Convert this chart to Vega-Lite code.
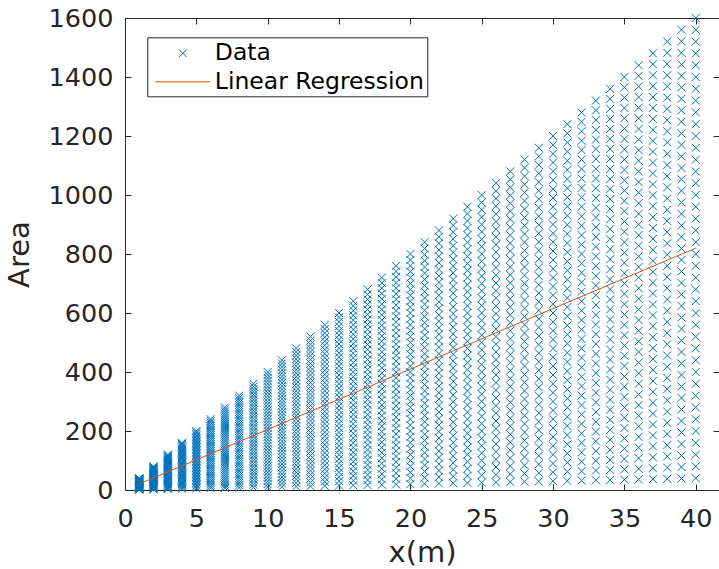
{
"$schema":"https://vega.github.io/schema/vega-lite/v6.json",
"width":594,"height":472,
"autosize":{"type":"none"},
"padding":{"left":125,"top":18,"right":0,"bottom":79},
"background":"white",
"config":{
"view":{"stroke":null},
"font":"DejaVu Sans",
"axis":{"domainColor":"#262626","tickColor":"#262626","labelColor":"#262626","titleColor":"#262626","labelFont":"DejaVu Sans","labelFontSize":25.5,"titleFont":"DejaVu Sans","titleFontSize":29,"titleFontWeight":"normal","tickSize":-6,"grid":false,"domainWidth":1,"tickWidth":1,"labelFlush":false,"labelOverlap":false}
},
"datasets":{
"fit":[{"x":1,"y":20.5},{"x":40,"y":820}],
"pts":[
{"x":1,"y":1},{"x":1,"y":2},{"x":1,"y":3},{"x":1,"y":4},{"x":1,"y":5},{"x":1,"y":6},{"x":1,"y":7},{"x":1,"y":8},{"x":1,"y":9},{"x":1,"y":10},{"x":1,"y":11},{"x":1,"y":12},{"x":1,"y":13},{"x":1,"y":14},{"x":1,"y":15},{"x":1,"y":16},{"x":1,"y":17},{"x":1,"y":18},{"x":1,"y":19},{"x":1,"y":20},{"x":1,"y":21},{"x":1,"y":22},{"x":1,"y":23},{"x":1,"y":24},{"x":1,"y":25},{"x":1,"y":26},{"x":1,"y":27},{"x":1,"y":28},{"x":1,"y":29},{"x":1,"y":30},{"x":1,"y":31},{"x":1,"y":32},{"x":1,"y":33},{"x":1,"y":34},{"x":1,"y":35},{"x":1,"y":36},{"x":1,"y":37},{"x":1,"y":38},{"x":1,"y":39},{"x":1,"y":40},
{"x":2,"y":2},{"x":2,"y":4},{"x":2,"y":6},{"x":2,"y":8},{"x":2,"y":10},{"x":2,"y":12},{"x":2,"y":14},{"x":2,"y":16},{"x":2,"y":18},{"x":2,"y":20},{"x":2,"y":22},{"x":2,"y":24},{"x":2,"y":26},{"x":2,"y":28},{"x":2,"y":30},{"x":2,"y":32},{"x":2,"y":34},{"x":2,"y":36},{"x":2,"y":38},{"x":2,"y":40},{"x":2,"y":42},{"x":2,"y":44},{"x":2,"y":46},{"x":2,"y":48},{"x":2,"y":50},{"x":2,"y":52},{"x":2,"y":54},{"x":2,"y":56},{"x":2,"y":58},{"x":2,"y":60},{"x":2,"y":62},{"x":2,"y":64},{"x":2,"y":66},{"x":2,"y":68},{"x":2,"y":70},{"x":2,"y":72},{"x":2,"y":74},{"x":2,"y":76},{"x":2,"y":78},{"x":2,"y":80},
{"x":3,"y":3},{"x":3,"y":6},{"x":3,"y":9},{"x":3,"y":12},{"x":3,"y":15},{"x":3,"y":18},{"x":3,"y":21},{"x":3,"y":24},{"x":3,"y":27},{"x":3,"y":30},{"x":3,"y":33},{"x":3,"y":36},{"x":3,"y":39},{"x":3,"y":42},{"x":3,"y":45},{"x":3,"y":48},{"x":3,"y":51},{"x":3,"y":54},{"x":3,"y":57},{"x":3,"y":60},{"x":3,"y":63},{"x":3,"y":66},{"x":3,"y":69},{"x":3,"y":72},{"x":3,"y":75},{"x":3,"y":78},{"x":3,"y":81},{"x":3,"y":84},{"x":3,"y":87},{"x":3,"y":90},{"x":3,"y":93},{"x":3,"y":96},{"x":3,"y":99},{"x":3,"y":102},{"x":3,"y":105},{"x":3,"y":108},{"x":3,"y":111},{"x":3,"y":114},{"x":3,"y":117},{"x":3,"y":120},
{"x":4,"y":4},{"x":4,"y":8},{"x":4,"y":12},{"x":4,"y":16},{"x":4,"y":20},{"x":4,"y":24},{"x":4,"y":28},{"x":4,"y":32},{"x":4,"y":36},{"x":4,"y":40},{"x":4,"y":44},{"x":4,"y":48},{"x":4,"y":52},{"x":4,"y":56},{"x":4,"y":60},{"x":4,"y":64},{"x":4,"y":68},{"x":4,"y":72},{"x":4,"y":76},{"x":4,"y":80},{"x":4,"y":84},{"x":4,"y":88},{"x":4,"y":92},{"x":4,"y":96},{"x":4,"y":100},{"x":4,"y":104},{"x":4,"y":108},{"x":4,"y":112},{"x":4,"y":116},{"x":4,"y":120},{"x":4,"y":124},{"x":4,"y":128},{"x":4,"y":132},{"x":4,"y":136},{"x":4,"y":140},{"x":4,"y":144},{"x":4,"y":148},{"x":4,"y":152},{"x":4,"y":156},{"x":4,"y":160},
{"x":5,"y":5},{"x":5,"y":10},{"x":5,"y":15},{"x":5,"y":20},{"x":5,"y":25},{"x":5,"y":30},{"x":5,"y":35},{"x":5,"y":40},{"x":5,"y":45},{"x":5,"y":50},{"x":5,"y":55},{"x":5,"y":60},{"x":5,"y":65},{"x":5,"y":70},{"x":5,"y":75},{"x":5,"y":80},{"x":5,"y":85},{"x":5,"y":90},{"x":5,"y":95},{"x":5,"y":100},{"x":5,"y":105},{"x":5,"y":110},{"x":5,"y":115},{"x":5,"y":120},{"x":5,"y":125},{"x":5,"y":130},{"x":5,"y":135},{"x":5,"y":140},{"x":5,"y":145},{"x":5,"y":150},{"x":5,"y":155},{"x":5,"y":160},{"x":5,"y":165},{"x":5,"y":170},{"x":5,"y":175},{"x":5,"y":180},{"x":5,"y":185},{"x":5,"y":190},{"x":5,"y":195},{"x":5,"y":200},
{"x":6,"y":6},{"x":6,"y":12},{"x":6,"y":18},{"x":6,"y":24},{"x":6,"y":30},{"x":6,"y":36},{"x":6,"y":42},{"x":6,"y":48},{"x":6,"y":54},{"x":6,"y":60},{"x":6,"y":66},{"x":6,"y":72},{"x":6,"y":78},{"x":6,"y":84},{"x":6,"y":90},{"x":6,"y":96},{"x":6,"y":102},{"x":6,"y":108},{"x":6,"y":114},{"x":6,"y":120},{"x":6,"y":126},{"x":6,"y":132},{"x":6,"y":138},{"x":6,"y":144},{"x":6,"y":150},{"x":6,"y":156},{"x":6,"y":162},{"x":6,"y":168},{"x":6,"y":174},{"x":6,"y":180},{"x":6,"y":186},{"x":6,"y":192},{"x":6,"y":198},{"x":6,"y":204},{"x":6,"y":210},{"x":6,"y":216},{"x":6,"y":222},{"x":6,"y":228},{"x":6,"y":234},{"x":6,"y":240},
{"x":7,"y":7},{"x":7,"y":14},{"x":7,"y":21},{"x":7,"y":28},{"x":7,"y":35},{"x":7,"y":42},{"x":7,"y":49},{"x":7,"y":56},{"x":7,"y":63},{"x":7,"y":70},{"x":7,"y":77},{"x":7,"y":84},{"x":7,"y":91},{"x":7,"y":98},{"x":7,"y":105},{"x":7,"y":112},{"x":7,"y":119},{"x":7,"y":126},{"x":7,"y":133},{"x":7,"y":140},{"x":7,"y":147},{"x":7,"y":154},{"x":7,"y":161},{"x":7,"y":168},{"x":7,"y":175},{"x":7,"y":182},{"x":7,"y":189},{"x":7,"y":196},{"x":7,"y":203},{"x":7,"y":210},{"x":7,"y":217},{"x":7,"y":224},{"x":7,"y":231},{"x":7,"y":238},{"x":7,"y":245},{"x":7,"y":252},{"x":7,"y":259},{"x":7,"y":266},{"x":7,"y":273},{"x":7,"y":280},
{"x":8,"y":8},{"x":8,"y":16},{"x":8,"y":24},{"x":8,"y":32},{"x":8,"y":40},{"x":8,"y":48},{"x":8,"y":56},{"x":8,"y":64},{"x":8,"y":72},{"x":8,"y":80},{"x":8,"y":88},{"x":8,"y":96},{"x":8,"y":104},{"x":8,"y":112},{"x":8,"y":120},{"x":8,"y":128},{"x":8,"y":136},{"x":8,"y":144},{"x":8,"y":152},{"x":8,"y":160},{"x":8,"y":168},{"x":8,"y":176},{"x":8,"y":184},{"x":8,"y":192},{"x":8,"y":200},{"x":8,"y":208},{"x":8,"y":216},{"x":8,"y":224},{"x":8,"y":232},{"x":8,"y":240},{"x":8,"y":248},{"x":8,"y":256},{"x":8,"y":264},{"x":8,"y":272},{"x":8,"y":280},{"x":8,"y":288},{"x":8,"y":296},{"x":8,"y":304},{"x":8,"y":312},{"x":8,"y":320},
{"x":9,"y":9},{"x":9,"y":18},{"x":9,"y":27},{"x":9,"y":36},{"x":9,"y":45},{"x":9,"y":54},{"x":9,"y":63},{"x":9,"y":72},{"x":9,"y":81},{"x":9,"y":90},{"x":9,"y":99},{"x":9,"y":108},{"x":9,"y":117},{"x":9,"y":126},{"x":9,"y":135},{"x":9,"y":144},{"x":9,"y":153},{"x":9,"y":162},{"x":9,"y":171},{"x":9,"y":180},{"x":9,"y":189},{"x":9,"y":198},{"x":9,"y":207},{"x":9,"y":216},{"x":9,"y":225},{"x":9,"y":234},{"x":9,"y":243},{"x":9,"y":252},{"x":9,"y":261},{"x":9,"y":270},{"x":9,"y":279},{"x":9,"y":288},{"x":9,"y":297},{"x":9,"y":306},{"x":9,"y":315},{"x":9,"y":324},{"x":9,"y":333},{"x":9,"y":342},{"x":9,"y":351},{"x":9,"y":360},
{"x":10,"y":10},{"x":10,"y":20},{"x":10,"y":30},{"x":10,"y":40},{"x":10,"y":50},{"x":10,"y":60},{"x":10,"y":70},{"x":10,"y":80},{"x":10,"y":90},{"x":10,"y":100},{"x":10,"y":110},{"x":10,"y":120},{"x":10,"y":130},{"x":10,"y":140},{"x":10,"y":150},{"x":10,"y":160},{"x":10,"y":170},{"x":10,"y":180},{"x":10,"y":190},{"x":10,"y":200},{"x":10,"y":210},{"x":10,"y":220},{"x":10,"y":230},{"x":10,"y":240},{"x":10,"y":250},{"x":10,"y":260},{"x":10,"y":270},{"x":10,"y":280},{"x":10,"y":290},{"x":10,"y":300},{"x":10,"y":310},{"x":10,"y":320},{"x":10,"y":330},{"x":10,"y":340},{"x":10,"y":350},{"x":10,"y":360},{"x":10,"y":370},{"x":10,"y":380},{"x":10,"y":390},{"x":10,"y":400},
{"x":11,"y":11},{"x":11,"y":22},{"x":11,"y":33},{"x":11,"y":44},{"x":11,"y":55},{"x":11,"y":66},{"x":11,"y":77},{"x":11,"y":88},{"x":11,"y":99},{"x":11,"y":110},{"x":11,"y":121},{"x":11,"y":132},{"x":11,"y":143},{"x":11,"y":154},{"x":11,"y":165},{"x":11,"y":176},{"x":11,"y":187},{"x":11,"y":198},{"x":11,"y":209},{"x":11,"y":220},{"x":11,"y":231},{"x":11,"y":242},{"x":11,"y":253},{"x":11,"y":264},{"x":11,"y":275},{"x":11,"y":286},{"x":11,"y":297},{"x":11,"y":308},{"x":11,"y":319},{"x":11,"y":330},{"x":11,"y":341},{"x":11,"y":352},{"x":11,"y":363},{"x":11,"y":374},{"x":11,"y":385},{"x":11,"y":396},{"x":11,"y":407},{"x":11,"y":418},{"x":11,"y":429},{"x":11,"y":440},
{"x":12,"y":12},{"x":12,"y":24},{"x":12,"y":36},{"x":12,"y":48},{"x":12,"y":60},{"x":12,"y":72},{"x":12,"y":84},{"x":12,"y":96},{"x":12,"y":108},{"x":12,"y":120},{"x":12,"y":132},{"x":12,"y":144},{"x":12,"y":156},{"x":12,"y":168},{"x":12,"y":180},{"x":12,"y":192},{"x":12,"y":204},{"x":12,"y":216},{"x":12,"y":228},{"x":12,"y":240},{"x":12,"y":252},{"x":12,"y":264},{"x":12,"y":276},{"x":12,"y":288},{"x":12,"y":300},{"x":12,"y":312},{"x":12,"y":324},{"x":12,"y":336},{"x":12,"y":348},{"x":12,"y":360},{"x":12,"y":372},{"x":12,"y":384},{"x":12,"y":396},{"x":12,"y":408},{"x":12,"y":420},{"x":12,"y":432},{"x":12,"y":444},{"x":12,"y":456},{"x":12,"y":468},{"x":12,"y":480},
{"x":13,"y":13},{"x":13,"y":26},{"x":13,"y":39},{"x":13,"y":52},{"x":13,"y":65},{"x":13,"y":78},{"x":13,"y":91},{"x":13,"y":104},{"x":13,"y":117},{"x":13,"y":130},{"x":13,"y":143},{"x":13,"y":156},{"x":13,"y":169},{"x":13,"y":182},{"x":13,"y":195},{"x":13,"y":208},{"x":13,"y":221},{"x":13,"y":234},{"x":13,"y":247},{"x":13,"y":260},{"x":13,"y":273},{"x":13,"y":286},{"x":13,"y":299},{"x":13,"y":312},{"x":13,"y":325},{"x":13,"y":338},{"x":13,"y":351},{"x":13,"y":364},{"x":13,"y":377},{"x":13,"y":390},{"x":13,"y":403},{"x":13,"y":416},{"x":13,"y":429},{"x":13,"y":442},{"x":13,"y":455},{"x":13,"y":468},{"x":13,"y":481},{"x":13,"y":494},{"x":13,"y":507},{"x":13,"y":520},
{"x":14,"y":14},{"x":14,"y":28},{"x":14,"y":42},{"x":14,"y":56},{"x":14,"y":70},{"x":14,"y":84},{"x":14,"y":98},{"x":14,"y":112},{"x":14,"y":126},{"x":14,"y":140},{"x":14,"y":154},{"x":14,"y":168},{"x":14,"y":182},{"x":14,"y":196},{"x":14,"y":210},{"x":14,"y":224},{"x":14,"y":238},{"x":14,"y":252},{"x":14,"y":266},{"x":14,"y":280},{"x":14,"y":294},{"x":14,"y":308},{"x":14,"y":322},{"x":14,"y":336},{"x":14,"y":350},{"x":14,"y":364},{"x":14,"y":378},{"x":14,"y":392},{"x":14,"y":406},{"x":14,"y":420},{"x":14,"y":434},{"x":14,"y":448},{"x":14,"y":462},{"x":14,"y":476},{"x":14,"y":490},{"x":14,"y":504},{"x":14,"y":518},{"x":14,"y":532},{"x":14,"y":546},{"x":14,"y":560},
{"x":15,"y":15},{"x":15,"y":30},{"x":15,"y":45},{"x":15,"y":60},{"x":15,"y":75},{"x":15,"y":90},{"x":15,"y":105},{"x":15,"y":120},{"x":15,"y":135},{"x":15,"y":150},{"x":15,"y":165},{"x":15,"y":180},{"x":15,"y":195},{"x":15,"y":210},{"x":15,"y":225},{"x":15,"y":240},{"x":15,"y":255},{"x":15,"y":270},{"x":15,"y":285},{"x":15,"y":300},{"x":15,"y":315},{"x":15,"y":330},{"x":15,"y":345},{"x":15,"y":360},{"x":15,"y":375},{"x":15,"y":390},{"x":15,"y":405},{"x":15,"y":420},{"x":15,"y":435},{"x":15,"y":450},{"x":15,"y":465},{"x":15,"y":480},{"x":15,"y":495},{"x":15,"y":510},{"x":15,"y":525},{"x":15,"y":540},{"x":15,"y":555},{"x":15,"y":570},{"x":15,"y":585},{"x":15,"y":600},
{"x":16,"y":16},{"x":16,"y":32},{"x":16,"y":48},{"x":16,"y":64},{"x":16,"y":80},{"x":16,"y":96},{"x":16,"y":112},{"x":16,"y":128},{"x":16,"y":144},{"x":16,"y":160},{"x":16,"y":176},{"x":16,"y":192},{"x":16,"y":208},{"x":16,"y":224},{"x":16,"y":240},{"x":16,"y":256},{"x":16,"y":272},{"x":16,"y":288},{"x":16,"y":304},{"x":16,"y":320},{"x":16,"y":336},{"x":16,"y":352},{"x":16,"y":368},{"x":16,"y":384},{"x":16,"y":400},{"x":16,"y":416},{"x":16,"y":432},{"x":16,"y":448},{"x":16,"y":464},{"x":16,"y":480},{"x":16,"y":496},{"x":16,"y":512},{"x":16,"y":528},{"x":16,"y":544},{"x":16,"y":560},{"x":16,"y":576},{"x":16,"y":592},{"x":16,"y":608},{"x":16,"y":624},{"x":16,"y":640},
{"x":17,"y":17},{"x":17,"y":34},{"x":17,"y":51},{"x":17,"y":68},{"x":17,"y":85},{"x":17,"y":102},{"x":17,"y":119},{"x":17,"y":136},{"x":17,"y":153},{"x":17,"y":170},{"x":17,"y":187},{"x":17,"y":204},{"x":17,"y":221},{"x":17,"y":238},{"x":17,"y":255},{"x":17,"y":272},{"x":17,"y":289},{"x":17,"y":306},{"x":17,"y":323},{"x":17,"y":340},{"x":17,"y":357},{"x":17,"y":374},{"x":17,"y":391},{"x":17,"y":408},{"x":17,"y":425},{"x":17,"y":442},{"x":17,"y":459},{"x":17,"y":476},{"x":17,"y":493},{"x":17,"y":510},{"x":17,"y":527},{"x":17,"y":544},{"x":17,"y":561},{"x":17,"y":578},{"x":17,"y":595},{"x":17,"y":612},{"x":17,"y":629},{"x":17,"y":646},{"x":17,"y":663},{"x":17,"y":680},
{"x":18,"y":18},{"x":18,"y":36},{"x":18,"y":54},{"x":18,"y":72},{"x":18,"y":90},{"x":18,"y":108},{"x":18,"y":126},{"x":18,"y":144},{"x":18,"y":162},{"x":18,"y":180},{"x":18,"y":198},{"x":18,"y":216},{"x":18,"y":234},{"x":18,"y":252},{"x":18,"y":270},{"x":18,"y":288},{"x":18,"y":306},{"x":18,"y":324},{"x":18,"y":342},{"x":18,"y":360},{"x":18,"y":378},{"x":18,"y":396},{"x":18,"y":414},{"x":18,"y":432},{"x":18,"y":450},{"x":18,"y":468},{"x":18,"y":486},{"x":18,"y":504},{"x":18,"y":522},{"x":18,"y":540},{"x":18,"y":558},{"x":18,"y":576},{"x":18,"y":594},{"x":18,"y":612},{"x":18,"y":630},{"x":18,"y":648},{"x":18,"y":666},{"x":18,"y":684},{"x":18,"y":702},{"x":18,"y":720},
{"x":19,"y":19},{"x":19,"y":38},{"x":19,"y":57},{"x":19,"y":76},{"x":19,"y":95},{"x":19,"y":114},{"x":19,"y":133},{"x":19,"y":152},{"x":19,"y":171},{"x":19,"y":190},{"x":19,"y":209},{"x":19,"y":228},{"x":19,"y":247},{"x":19,"y":266},{"x":19,"y":285},{"x":19,"y":304},{"x":19,"y":323},{"x":19,"y":342},{"x":19,"y":361},{"x":19,"y":380},{"x":19,"y":399},{"x":19,"y":418},{"x":19,"y":437},{"x":19,"y":456},{"x":19,"y":475},{"x":19,"y":494},{"x":19,"y":513},{"x":19,"y":532},{"x":19,"y":551},{"x":19,"y":570},{"x":19,"y":589},{"x":19,"y":608},{"x":19,"y":627},{"x":19,"y":646},{"x":19,"y":665},{"x":19,"y":684},{"x":19,"y":703},{"x":19,"y":722},{"x":19,"y":741},{"x":19,"y":760},
{"x":20,"y":20},{"x":20,"y":40},{"x":20,"y":60},{"x":20,"y":80},{"x":20,"y":100},{"x":20,"y":120},{"x":20,"y":140},{"x":20,"y":160},{"x":20,"y":180},{"x":20,"y":200},{"x":20,"y":220},{"x":20,"y":240},{"x":20,"y":260},{"x":20,"y":280},{"x":20,"y":300},{"x":20,"y":320},{"x":20,"y":340},{"x":20,"y":360},{"x":20,"y":380},{"x":20,"y":400},{"x":20,"y":420},{"x":20,"y":440},{"x":20,"y":460},{"x":20,"y":480},{"x":20,"y":500},{"x":20,"y":520},{"x":20,"y":540},{"x":20,"y":560},{"x":20,"y":580},{"x":20,"y":600},{"x":20,"y":620},{"x":20,"y":640},{"x":20,"y":660},{"x":20,"y":680},{"x":20,"y":700},{"x":20,"y":720},{"x":20,"y":740},{"x":20,"y":760},{"x":20,"y":780},{"x":20,"y":800},
{"x":21,"y":21},{"x":21,"y":42},{"x":21,"y":63},{"x":21,"y":84},{"x":21,"y":105},{"x":21,"y":126},{"x":21,"y":147},{"x":21,"y":168},{"x":21,"y":189},{"x":21,"y":210},{"x":21,"y":231},{"x":21,"y":252},{"x":21,"y":273},{"x":21,"y":294},{"x":21,"y":315},{"x":21,"y":336},{"x":21,"y":357},{"x":21,"y":378},{"x":21,"y":399},{"x":21,"y":420},{"x":21,"y":441},{"x":21,"y":462},{"x":21,"y":483},{"x":21,"y":504},{"x":21,"y":525},{"x":21,"y":546},{"x":21,"y":567},{"x":21,"y":588},{"x":21,"y":609},{"x":21,"y":630},{"x":21,"y":651},{"x":21,"y":672},{"x":21,"y":693},{"x":21,"y":714},{"x":21,"y":735},{"x":21,"y":756},{"x":21,"y":777},{"x":21,"y":798},{"x":21,"y":819},{"x":21,"y":840},
{"x":22,"y":22},{"x":22,"y":44},{"x":22,"y":66},{"x":22,"y":88},{"x":22,"y":110},{"x":22,"y":132},{"x":22,"y":154},{"x":22,"y":176},{"x":22,"y":198},{"x":22,"y":220},{"x":22,"y":242},{"x":22,"y":264},{"x":22,"y":286},{"x":22,"y":308},{"x":22,"y":330},{"x":22,"y":352},{"x":22,"y":374},{"x":22,"y":396},{"x":22,"y":418},{"x":22,"y":440},{"x":22,"y":462},{"x":22,"y":484},{"x":22,"y":506},{"x":22,"y":528},{"x":22,"y":550},{"x":22,"y":572},{"x":22,"y":594},{"x":22,"y":616},{"x":22,"y":638},{"x":22,"y":660},{"x":22,"y":682},{"x":22,"y":704},{"x":22,"y":726},{"x":22,"y":748},{"x":22,"y":770},{"x":22,"y":792},{"x":22,"y":814},{"x":22,"y":836},{"x":22,"y":858},{"x":22,"y":880},
{"x":23,"y":23},{"x":23,"y":46},{"x":23,"y":69},{"x":23,"y":92},{"x":23,"y":115},{"x":23,"y":138},{"x":23,"y":161},{"x":23,"y":184},{"x":23,"y":207},{"x":23,"y":230},{"x":23,"y":253},{"x":23,"y":276},{"x":23,"y":299},{"x":23,"y":322},{"x":23,"y":345},{"x":23,"y":368},{"x":23,"y":391},{"x":23,"y":414},{"x":23,"y":437},{"x":23,"y":460},{"x":23,"y":483},{"x":23,"y":506},{"x":23,"y":529},{"x":23,"y":552},{"x":23,"y":575},{"x":23,"y":598},{"x":23,"y":621},{"x":23,"y":644},{"x":23,"y":667},{"x":23,"y":690},{"x":23,"y":713},{"x":23,"y":736},{"x":23,"y":759},{"x":23,"y":782},{"x":23,"y":805},{"x":23,"y":828},{"x":23,"y":851},{"x":23,"y":874},{"x":23,"y":897},{"x":23,"y":920},
{"x":24,"y":24},{"x":24,"y":48},{"x":24,"y":72},{"x":24,"y":96},{"x":24,"y":120},{"x":24,"y":144},{"x":24,"y":168},{"x":24,"y":192},{"x":24,"y":216},{"x":24,"y":240},{"x":24,"y":264},{"x":24,"y":288},{"x":24,"y":312},{"x":24,"y":336},{"x":24,"y":360},{"x":24,"y":384},{"x":24,"y":408},{"x":24,"y":432},{"x":24,"y":456},{"x":24,"y":480},{"x":24,"y":504},{"x":24,"y":528},{"x":24,"y":552},{"x":24,"y":576},{"x":24,"y":600},{"x":24,"y":624},{"x":24,"y":648},{"x":24,"y":672},{"x":24,"y":696},{"x":24,"y":720},{"x":24,"y":744},{"x":24,"y":768},{"x":24,"y":792},{"x":24,"y":816},{"x":24,"y":840},{"x":24,"y":864},{"x":24,"y":888},{"x":24,"y":912},{"x":24,"y":936},{"x":24,"y":960},
{"x":25,"y":25},{"x":25,"y":50},{"x":25,"y":75},{"x":25,"y":100},{"x":25,"y":125},{"x":25,"y":150},{"x":25,"y":175},{"x":25,"y":200},{"x":25,"y":225},{"x":25,"y":250},{"x":25,"y":275},{"x":25,"y":300},{"x":25,"y":325},{"x":25,"y":350},{"x":25,"y":375},{"x":25,"y":400},{"x":25,"y":425},{"x":25,"y":450},{"x":25,"y":475},{"x":25,"y":500},{"x":25,"y":525},{"x":25,"y":550},{"x":25,"y":575},{"x":25,"y":600},{"x":25,"y":625},{"x":25,"y":650},{"x":25,"y":675},{"x":25,"y":700},{"x":25,"y":725},{"x":25,"y":750},{"x":25,"y":775},{"x":25,"y":800},{"x":25,"y":825},{"x":25,"y":850},{"x":25,"y":875},{"x":25,"y":900},{"x":25,"y":925},{"x":25,"y":950},{"x":25,"y":975},{"x":25,"y":1000},
{"x":26,"y":26},{"x":26,"y":52},{"x":26,"y":78},{"x":26,"y":104},{"x":26,"y":130},{"x":26,"y":156},{"x":26,"y":182},{"x":26,"y":208},{"x":26,"y":234},{"x":26,"y":260},{"x":26,"y":286},{"x":26,"y":312},{"x":26,"y":338},{"x":26,"y":364},{"x":26,"y":390},{"x":26,"y":416},{"x":26,"y":442},{"x":26,"y":468},{"x":26,"y":494},{"x":26,"y":520},{"x":26,"y":546},{"x":26,"y":572},{"x":26,"y":598},{"x":26,"y":624},{"x":26,"y":650},{"x":26,"y":676},{"x":26,"y":702},{"x":26,"y":728},{"x":26,"y":754},{"x":26,"y":780},{"x":26,"y":806},{"x":26,"y":832},{"x":26,"y":858},{"x":26,"y":884},{"x":26,"y":910},{"x":26,"y":936},{"x":26,"y":962},{"x":26,"y":988},{"x":26,"y":1014},{"x":26,"y":1040},
{"x":27,"y":27},{"x":27,"y":54},{"x":27,"y":81},{"x":27,"y":108},{"x":27,"y":135},{"x":27,"y":162},{"x":27,"y":189},{"x":27,"y":216},{"x":27,"y":243},{"x":27,"y":270},{"x":27,"y":297},{"x":27,"y":324},{"x":27,"y":351},{"x":27,"y":378},{"x":27,"y":405},{"x":27,"y":432},{"x":27,"y":459},{"x":27,"y":486},{"x":27,"y":513},{"x":27,"y":540},{"x":27,"y":567},{"x":27,"y":594},{"x":27,"y":621},{"x":27,"y":648},{"x":27,"y":675},{"x":27,"y":702},{"x":27,"y":729},{"x":27,"y":756},{"x":27,"y":783},{"x":27,"y":810},{"x":27,"y":837},{"x":27,"y":864},{"x":27,"y":891},{"x":27,"y":918},{"x":27,"y":945},{"x":27,"y":972},{"x":27,"y":999},{"x":27,"y":1026},{"x":27,"y":1053},{"x":27,"y":1080},
{"x":28,"y":28},{"x":28,"y":56},{"x":28,"y":84},{"x":28,"y":112},{"x":28,"y":140},{"x":28,"y":168},{"x":28,"y":196},{"x":28,"y":224},{"x":28,"y":252},{"x":28,"y":280},{"x":28,"y":308},{"x":28,"y":336},{"x":28,"y":364},{"x":28,"y":392},{"x":28,"y":420},{"x":28,"y":448},{"x":28,"y":476},{"x":28,"y":504},{"x":28,"y":532},{"x":28,"y":560},{"x":28,"y":588},{"x":28,"y":616},{"x":28,"y":644},{"x":28,"y":672},{"x":28,"y":700},{"x":28,"y":728},{"x":28,"y":756},{"x":28,"y":784},{"x":28,"y":812},{"x":28,"y":840},{"x":28,"y":868},{"x":28,"y":896},{"x":28,"y":924},{"x":28,"y":952},{"x":28,"y":980},{"x":28,"y":1008},{"x":28,"y":1036},{"x":28,"y":1064},{"x":28,"y":1092},{"x":28,"y":1120},
{"x":29,"y":29},{"x":29,"y":58},{"x":29,"y":87},{"x":29,"y":116},{"x":29,"y":145},{"x":29,"y":174},{"x":29,"y":203},{"x":29,"y":232},{"x":29,"y":261},{"x":29,"y":290},{"x":29,"y":319},{"x":29,"y":348},{"x":29,"y":377},{"x":29,"y":406},{"x":29,"y":435},{"x":29,"y":464},{"x":29,"y":493},{"x":29,"y":522},{"x":29,"y":551},{"x":29,"y":580},{"x":29,"y":609},{"x":29,"y":638},{"x":29,"y":667},{"x":29,"y":696},{"x":29,"y":725},{"x":29,"y":754},{"x":29,"y":783},{"x":29,"y":812},{"x":29,"y":841},{"x":29,"y":870},{"x":29,"y":899},{"x":29,"y":928},{"x":29,"y":957},{"x":29,"y":986},{"x":29,"y":1015},{"x":29,"y":1044},{"x":29,"y":1073},{"x":29,"y":1102},{"x":29,"y":1131},{"x":29,"y":1160},
{"x":30,"y":30},{"x":30,"y":60},{"x":30,"y":90},{"x":30,"y":120},{"x":30,"y":150},{"x":30,"y":180},{"x":30,"y":210},{"x":30,"y":240},{"x":30,"y":270},{"x":30,"y":300},{"x":30,"y":330},{"x":30,"y":360},{"x":30,"y":390},{"x":30,"y":420},{"x":30,"y":450},{"x":30,"y":480},{"x":30,"y":510},{"x":30,"y":540},{"x":30,"y":570},{"x":30,"y":600},{"x":30,"y":630},{"x":30,"y":660},{"x":30,"y":690},{"x":30,"y":720},{"x":30,"y":750},{"x":30,"y":780},{"x":30,"y":810},{"x":30,"y":840},{"x":30,"y":870},{"x":30,"y":900},{"x":30,"y":930},{"x":30,"y":960},{"x":30,"y":990},{"x":30,"y":1020},{"x":30,"y":1050},{"x":30,"y":1080},{"x":30,"y":1110},{"x":30,"y":1140},{"x":30,"y":1170},{"x":30,"y":1200},
{"x":31,"y":31},{"x":31,"y":62},{"x":31,"y":93},{"x":31,"y":124},{"x":31,"y":155},{"x":31,"y":186},{"x":31,"y":217},{"x":31,"y":248},{"x":31,"y":279},{"x":31,"y":310},{"x":31,"y":341},{"x":31,"y":372},{"x":31,"y":403},{"x":31,"y":434},{"x":31,"y":465},{"x":31,"y":496},{"x":31,"y":527},{"x":31,"y":558},{"x":31,"y":589},{"x":31,"y":620},{"x":31,"y":651},{"x":31,"y":682},{"x":31,"y":713},{"x":31,"y":744},{"x":31,"y":775},{"x":31,"y":806},{"x":31,"y":837},{"x":31,"y":868},{"x":31,"y":899},{"x":31,"y":930},{"x":31,"y":961},{"x":31,"y":992},{"x":31,"y":1023},{"x":31,"y":1054},{"x":31,"y":1085},{"x":31,"y":1116},{"x":31,"y":1147},{"x":31,"y":1178},{"x":31,"y":1209},{"x":31,"y":1240},
{"x":32,"y":32},{"x":32,"y":64},{"x":32,"y":96},{"x":32,"y":128},{"x":32,"y":160},{"x":32,"y":192},{"x":32,"y":224},{"x":32,"y":256},{"x":32,"y":288},{"x":32,"y":320},{"x":32,"y":352},{"x":32,"y":384},{"x":32,"y":416},{"x":32,"y":448},{"x":32,"y":480},{"x":32,"y":512},{"x":32,"y":544},{"x":32,"y":576},{"x":32,"y":608},{"x":32,"y":640},{"x":32,"y":672},{"x":32,"y":704},{"x":32,"y":736},{"x":32,"y":768},{"x":32,"y":800},{"x":32,"y":832},{"x":32,"y":864},{"x":32,"y":896},{"x":32,"y":928},{"x":32,"y":960},{"x":32,"y":992},{"x":32,"y":1024},{"x":32,"y":1056},{"x":32,"y":1088},{"x":32,"y":1120},{"x":32,"y":1152},{"x":32,"y":1184},{"x":32,"y":1216},{"x":32,"y":1248},{"x":32,"y":1280},
{"x":33,"y":33},{"x":33,"y":66},{"x":33,"y":99},{"x":33,"y":132},{"x":33,"y":165},{"x":33,"y":198},{"x":33,"y":231},{"x":33,"y":264},{"x":33,"y":297},{"x":33,"y":330},{"x":33,"y":363},{"x":33,"y":396},{"x":33,"y":429},{"x":33,"y":462},{"x":33,"y":495},{"x":33,"y":528},{"x":33,"y":561},{"x":33,"y":594},{"x":33,"y":627},{"x":33,"y":660},{"x":33,"y":693},{"x":33,"y":726},{"x":33,"y":759},{"x":33,"y":792},{"x":33,"y":825},{"x":33,"y":858},{"x":33,"y":891},{"x":33,"y":924},{"x":33,"y":957},{"x":33,"y":990},{"x":33,"y":1023},{"x":33,"y":1056},{"x":33,"y":1089},{"x":33,"y":1122},{"x":33,"y":1155},{"x":33,"y":1188},{"x":33,"y":1221},{"x":33,"y":1254},{"x":33,"y":1287},{"x":33,"y":1320},
{"x":34,"y":34},{"x":34,"y":68},{"x":34,"y":102},{"x":34,"y":136},{"x":34,"y":170},{"x":34,"y":204},{"x":34,"y":238},{"x":34,"y":272},{"x":34,"y":306},{"x":34,"y":340},{"x":34,"y":374},{"x":34,"y":408},{"x":34,"y":442},{"x":34,"y":476},{"x":34,"y":510},{"x":34,"y":544},{"x":34,"y":578},{"x":34,"y":612},{"x":34,"y":646},{"x":34,"y":680},{"x":34,"y":714},{"x":34,"y":748},{"x":34,"y":782},{"x":34,"y":816},{"x":34,"y":850},{"x":34,"y":884},{"x":34,"y":918},{"x":34,"y":952},{"x":34,"y":986},{"x":34,"y":1020},{"x":34,"y":1054},{"x":34,"y":1088},{"x":34,"y":1122},{"x":34,"y":1156},{"x":34,"y":1190},{"x":34,"y":1224},{"x":34,"y":1258},{"x":34,"y":1292},{"x":34,"y":1326},{"x":34,"y":1360},
{"x":35,"y":35},{"x":35,"y":70},{"x":35,"y":105},{"x":35,"y":140},{"x":35,"y":175},{"x":35,"y":210},{"x":35,"y":245},{"x":35,"y":280},{"x":35,"y":315},{"x":35,"y":350},{"x":35,"y":385},{"x":35,"y":420},{"x":35,"y":455},{"x":35,"y":490},{"x":35,"y":525},{"x":35,"y":560},{"x":35,"y":595},{"x":35,"y":630},{"x":35,"y":665},{"x":35,"y":700},{"x":35,"y":735},{"x":35,"y":770},{"x":35,"y":805},{"x":35,"y":840},{"x":35,"y":875},{"x":35,"y":910},{"x":35,"y":945},{"x":35,"y":980},{"x":35,"y":1015},{"x":35,"y":1050},{"x":35,"y":1085},{"x":35,"y":1120},{"x":35,"y":1155},{"x":35,"y":1190},{"x":35,"y":1225},{"x":35,"y":1260},{"x":35,"y":1295},{"x":35,"y":1330},{"x":35,"y":1365},{"x":35,"y":1400},
{"x":36,"y":36},{"x":36,"y":72},{"x":36,"y":108},{"x":36,"y":144},{"x":36,"y":180},{"x":36,"y":216},{"x":36,"y":252},{"x":36,"y":288},{"x":36,"y":324},{"x":36,"y":360},{"x":36,"y":396},{"x":36,"y":432},{"x":36,"y":468},{"x":36,"y":504},{"x":36,"y":540},{"x":36,"y":576},{"x":36,"y":612},{"x":36,"y":648},{"x":36,"y":684},{"x":36,"y":720},{"x":36,"y":756},{"x":36,"y":792},{"x":36,"y":828},{"x":36,"y":864},{"x":36,"y":900},{"x":36,"y":936},{"x":36,"y":972},{"x":36,"y":1008},{"x":36,"y":1044},{"x":36,"y":1080},{"x":36,"y":1116},{"x":36,"y":1152},{"x":36,"y":1188},{"x":36,"y":1224},{"x":36,"y":1260},{"x":36,"y":1296},{"x":36,"y":1332},{"x":36,"y":1368},{"x":36,"y":1404},{"x":36,"y":1440},
{"x":37,"y":37},{"x":37,"y":74},{"x":37,"y":111},{"x":37,"y":148},{"x":37,"y":185},{"x":37,"y":222},{"x":37,"y":259},{"x":37,"y":296},{"x":37,"y":333},{"x":37,"y":370},{"x":37,"y":407},{"x":37,"y":444},{"x":37,"y":481},{"x":37,"y":518},{"x":37,"y":555},{"x":37,"y":592},{"x":37,"y":629},{"x":37,"y":666},{"x":37,"y":703},{"x":37,"y":740},{"x":37,"y":777},{"x":37,"y":814},{"x":37,"y":851},{"x":37,"y":888},{"x":37,"y":925},{"x":37,"y":962},{"x":37,"y":999},{"x":37,"y":1036},{"x":37,"y":1073},{"x":37,"y":1110},{"x":37,"y":1147},{"x":37,"y":1184},{"x":37,"y":1221},{"x":37,"y":1258},{"x":37,"y":1295},{"x":37,"y":1332},{"x":37,"y":1369},{"x":37,"y":1406},{"x":37,"y":1443},{"x":37,"y":1480},
{"x":38,"y":38},{"x":38,"y":76},{"x":38,"y":114},{"x":38,"y":152},{"x":38,"y":190},{"x":38,"y":228},{"x":38,"y":266},{"x":38,"y":304},{"x":38,"y":342},{"x":38,"y":380},{"x":38,"y":418},{"x":38,"y":456},{"x":38,"y":494},{"x":38,"y":532},{"x":38,"y":570},{"x":38,"y":608},{"x":38,"y":646},{"x":38,"y":684},{"x":38,"y":722},{"x":38,"y":760},{"x":38,"y":798},{"x":38,"y":836},{"x":38,"y":874},{"x":38,"y":912},{"x":38,"y":950},{"x":38,"y":988},{"x":38,"y":1026},{"x":38,"y":1064},{"x":38,"y":1102},{"x":38,"y":1140},{"x":38,"y":1178},{"x":38,"y":1216},{"x":38,"y":1254},{"x":38,"y":1292},{"x":38,"y":1330},{"x":38,"y":1368},{"x":38,"y":1406},{"x":38,"y":1444},{"x":38,"y":1482},{"x":38,"y":1520},
{"x":39,"y":39},{"x":39,"y":78},{"x":39,"y":117},{"x":39,"y":156},{"x":39,"y":195},{"x":39,"y":234},{"x":39,"y":273},{"x":39,"y":312},{"x":39,"y":351},{"x":39,"y":390},{"x":39,"y":429},{"x":39,"y":468},{"x":39,"y":507},{"x":39,"y":546},{"x":39,"y":585},{"x":39,"y":624},{"x":39,"y":663},{"x":39,"y":702},{"x":39,"y":741},{"x":39,"y":780},{"x":39,"y":819},{"x":39,"y":858},{"x":39,"y":897},{"x":39,"y":936},{"x":39,"y":975},{"x":39,"y":1014},{"x":39,"y":1053},{"x":39,"y":1092},{"x":39,"y":1131},{"x":39,"y":1170},{"x":39,"y":1209},{"x":39,"y":1248},{"x":39,"y":1287},{"x":39,"y":1326},{"x":39,"y":1365},{"x":39,"y":1404},{"x":39,"y":1443},{"x":39,"y":1482},{"x":39,"y":1521},{"x":39,"y":1560},
{"x":40,"y":40},{"x":40,"y":80},{"x":40,"y":120},{"x":40,"y":160},{"x":40,"y":200},{"x":40,"y":240},{"x":40,"y":280},{"x":40,"y":320},{"x":40,"y":360},{"x":40,"y":400},{"x":40,"y":440},{"x":40,"y":480},{"x":40,"y":520},{"x":40,"y":560},{"x":40,"y":600},{"x":40,"y":640},{"x":40,"y":680},{"x":40,"y":720},{"x":40,"y":760},{"x":40,"y":800},{"x":40,"y":840},{"x":40,"y":880},{"x":40,"y":920},{"x":40,"y":960},{"x":40,"y":1000},{"x":40,"y":1040},{"x":40,"y":1080},{"x":40,"y":1120},{"x":40,"y":1160},{"x":40,"y":1200},{"x":40,"y":1240},{"x":40,"y":1280},{"x":40,"y":1320},{"x":40,"y":1360},{"x":40,"y":1400},{"x":40,"y":1440},{"x":40,"y":1480},{"x":40,"y":1520},{"x":40,"y":1560},{"x":40,"y":1600}
]
},
"layer":[
{"data":{"name":"pts"},
"mark":{"type":"point","filled":false,"size":711,"strokeWidth":1,"opacity":1},
"encoding":{
"x":{"field":"x","type":"quantitative","scale":{"domain":[0,41.63],"nice":false,"zero":true},"axis":{"orient":"bottom","values":[0,5,10,15,20,25,30,35,40],"title":"x(m)","labelPadding":22,"titlePadding":7}},
"y":{"field":"y","type":"quantitative","scale":{"domain":[0,1600],"nice":false,"zero":true},"axis":{"orient":"left","values":[0,200,400,600,800,1000,1200,1400,1600],"format":"d","title":"Area","labelPadding":18,"titlePadding":14}},
"color":{"datum":"Data","type":"nominal","scale":{"domain":["Data","Linear Regression"],"range":["#0072BD","#D95319"]},
"legend":{"title":null,"orient":"none","legendX":22.3,"legendY":19.3,"fillColor":"white","strokeColor":"#262626","padding":3,"labelFont":"DejaVu Sans","labelFontSize":23.5,"labelColor":"#000000","labelLimit":400,"symbolSize":625,"symbolOffset":19.5,"labelOffset":19,"rowPadding":3.5,"symbolStrokeWidth":1,"symbolFillColor":"transparent"}},
"shape":{"datum":"Data","type":"nominal","scale":{"domain":["Data","Linear Regression"],"range":["M-0.3,-0.3L0.3,0.3M-0.3,0.3L0.3,-0.3","M-2.2,0L2.2,0"]},
"legend":{"title":null,"orient":"none","legendX":22.3,"legendY":19.3,"fillColor":"white","strokeColor":"#262626","padding":3,"labelFont":"DejaVu Sans","labelFontSize":23.5,"labelColor":"#000000","labelLimit":400,"symbolSize":625,"symbolOffset":19.5,"labelOffset":19,"rowPadding":3.5,"symbolStrokeWidth":1,"symbolFillColor":"transparent"}}
}},
{"data":{"name":"fit"},
"mark":{"type":"line","strokeWidth":1},
"encoding":{
"x":{"field":"x","type":"quantitative","axis":{"orient":"top","labels":false,"title":null,"values":[0,5,10,15,20,25,30,35,40],"domain":true}},
"y":{"field":"y","type":"quantitative","axis":{"orient":"right","labels":false,"title":null,"values":[0,200,400,600,800,1000,1200,1400,1600],"domain":false}},
"color":{"datum":"Linear Regression","type":"nominal"}
}}
],
"resolve":{"axis":{"x":"independent","y":"independent"}}
}
